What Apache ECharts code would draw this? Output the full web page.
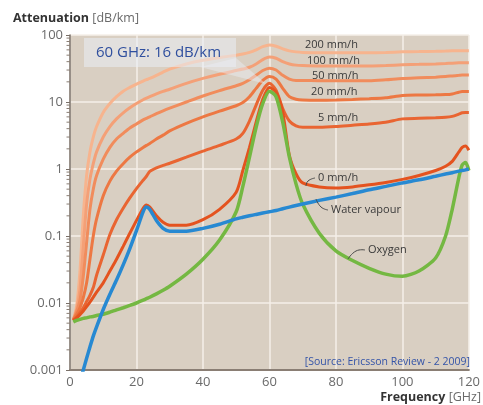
<!DOCTYPE html>
<html>
<head>
<meta charset="utf-8">
<script src="https://cdn.jsdelivr.net/npm/echarts@6/dist/echarts.min.js"></script>
<style>
html,body{margin:0;padding:0;background:#fff;}
#c{width:483px;height:405px;}
</style>
</head>
<body>
<div id="c"></div>
<script>
// Frequencies (GHz)
const freq = [1,2,3,4,5,6,7,8,10,12,14,16,18,20,22,23,24,26,28,30,35,40,45,50,52,54,56,58,60,62,64,66,68,70,75,80,85,90,95,100,105,110,113,115,117,118,119,120];

// Attenuation (dB/km)
const rain200 = [0.0056,0.009,0.03,0.2,0.8,1.8,3.0,4.3,7,9.5,12,14.5,16.5,18.5,20.5,21.5,22.5,25,28,31,37,42,46,50,52,55,60,67,71,68,62,58,56,55,54.5,54.5,54.5,54.5,55,56,56.5,57,57.5,58,58,58,58.3,58.3];
const rain100 = [0.0056,0.008,0.016,0.07,0.3,0.7,1.2,1.8,3.0,4.3,5.6,6.9,8.2,9.5,10.8,11.4,12,13.2,14.4,15.5,19,22.5,26,29.5,31,33,37,43,47,45,40,37,35.5,35,34.5,34.5,34.5,34.5,35,36,36.5,37,37.5,38,38.5,38.6,38.6,38.6];
const rain50 = [0.0056,0.0075,0.011,0.025,0.08,0.25,0.5,0.8,1.4,2.1,2.8,3.4,4.1,4.7,5.4,5.7,6.0,6.7,7.4,8.1,10,12.3,14.8,17.5,19,21.5,25,29.5,32,30,25,22,21,21,20.8,20.8,20.8,20.8,21.5,22.5,23,23.5,24,24.5,25,25.3,25.3,25.3];
const rain20 = [0.0056,0.0068,0.0085,0.012,0.02,0.045,0.1,0.18,0.4,0.66,0.93,1.2,1.5,1.8,2.1,2.25,2.4,2.8,3.2,3.7,4.8,6.0,7.3,8.8,9.8,12,16,21,24,22,16,12,11,10.7,10.6,10.7,10.9,11.2,11.6,12.5,12.7,12.8,12.9,13.2,14,14.3,14.3,14.3];
const rain5 = [0.0055,0.0062,0.0072,0.0085,0.0105,0.013,0.017,0.026,0.052,0.105,0.175,0.26,0.37,0.51,0.68,0.78,0.92,1.04,1.13,1.22,1.5,1.85,2.25,2.8,3.4,5.2,9,15,19,15,8,5.2,4.4,4.2,4.2,4.3,4.5,4.7,5.0,5.6,5.7,5.8,5.9,6.1,6.6,6.9,7.0,7.0];
const rain0 = [0.0055,0.006,0.0067,0.0076,0.0088,0.0103,0.0122,0.0145,0.02,0.03,0.045,0.07,0.11,0.17,0.26,0.29,0.27,0.2,0.16,0.145,0.145,0.175,0.25,0.45,0.95,2.1,5,11,16.5,14,7,1.6,0.85,0.62,0.54,0.52,0.54,0.58,0.63,0.7,0.8,0.95,1.1,1.3,1.8,2.1,2.2,1.9];
const oxygen = [0.0052,0.0055,0.0057,0.0059,0.006,0.0062,0.0063,0.0065,0.0068,0.0073,0.0079,0.0085,0.0092,0.010,0.011,0.0116,0.0122,0.0137,0.0155,0.0178,0.027,0.045,0.087,0.23,0.55,1.5,4.2,9.5,14.5,12,5,1.5,0.6,0.3,0.11,0.06,0.043,0.033,0.027,0.025,0.03,0.047,0.1,0.25,0.75,1.15,1.25,0.95];
const water = [0.00022,0.0004,0.00068,0.001,0.0015,0.0022,0.0032,0.0044,0.008,0.0135,0.022,0.037,0.065,0.12,0.23,0.27,0.25,0.17,0.13,0.118,0.118,0.13,0.15,0.18,0.19,0.2,0.21,0.22,0.23,0.24,0.255,0.27,0.285,0.3,0.34,0.38,0.43,0.49,0.55,0.62,0.69,0.78,0.84,0.88,0.93,0.95,0.97,1.0];

// Axis ticks
const xTicks = [0,20,40,60,80,100,120];
const yMinorTicks = [];
[0.001,0.01,0.1,1,10].forEach(d => { for (let m = 2; m <= 9; m++) yMinorTicks.push(+(d*m).toPrecision(2)); });

const zip = vals => freq.map((f,i) => [f, vals[i]]);

const FONT = '"Open Sans", "DejaVu Sans", sans-serif';

const lineSeries = (name, vals, color, width) => ({
  name, type: 'line', data: zip(vals), showSymbol: false, smooth: 0.25,
  lineStyle: { color, width }, itemStyle: { color }, silent: true
});

const chart = echarts.init(document.getElementById('c'), null, { renderer: 'canvas' });
chart.setOption({
  animation: false,
  backgroundColor: '#ffffff',
  grid: { left: 70, right: 12, top: 35, bottom: 35, show: true, backgroundColor: '#d9cfc2', borderWidth: 0 },
  xAxis: {
    type: 'value', min: 0, max: 120, interval: 20,
    axisLine: { show: true, lineStyle: { color: '#8a7e74', width: 2 } },
    axisTick: { show: false },
    splitLine: { show: true, lineStyle: { color: '#f4efe8', width: 1.5 } },
    axisLabel: { color: '#6a6a6a', fontSize: 13, fontFamily: FONT, margin: 6 }
  },
  yAxis: {
    type: 'log', logBase: 10, min: 0.001, max: 100,
    axisLine: { show: true, lineStyle: { color: '#7a7068', width: 1.5 } },
    axisTick: { show: true, inside: false, length: 4, lineStyle: { color: '#7a7068' } },
    splitLine: { show: true, lineStyle: { color: '#f4efe8', width: 1.5 } },
    axisLabel: { color: '#6a6a6a', fontSize: 13, fontFamily: FONT, margin: 7,
      formatter: v => String(+(+v).toPrecision(1)) }
  },
  series: [
    {
      type: 'custom', silent: true, clip: false,
      data: yMinorTicks.map(v => [0, v]),
      encode: { x: 0, y: 1 },
      renderItem: (params, api) => {
        const p = api.coord([api.value(0), api.value(1)]);
        return { type: 'line', shape: { x1: p[0] - 3.5, y1: p[1], x2: p[0], y2: p[1] },
          style: { stroke: '#8a7e74', lineWidth: 1 } };
      }
    },
    lineSeries('200 mm/h', rain200, '#f7b48e', 3),
    lineSeries('100 mm/h', rain100, '#f4a077', 3),
    lineSeries('50 mm/h', rain50, '#f18c5c', 3),
    lineSeries('20 mm/h', rain20, '#ed7843', 3),
    lineSeries('5 mm/h', rain5, '#e96532', 3),
    lineSeries('0 mm/h', rain0, '#e4531f', 3),
    lineSeries('Oxygen', oxygen, '#74b842', 3.5),
    lineSeries('Water vapour', water, '#2789d2', 3.5)
  ],
  graphic: [
    { type: 'rect', shape: { x: 84, y: 38, width: 152, height: 29 },
      style: { fill: 'rgba(234,238,246,0.55)' }, z: 10 },
    { type: 'polygon', shape: { points: [[200, 67], [236, 58], [266, 84]] },
      style: { fill: 'rgba(234,238,246,0.45)' }, z: 10 },
    { type: 'text', x: 96, y: 52.5, z: 11,
      style: { text: '60 GHz: 16 dB/km', font: '15px ' + FONT, fill: '#2f4f9e',
        align: 'left', verticalAlign: 'middle', textAlign: 'left', textVerticalAlign: 'middle' } },
    { type: 'text', x: 13, y: 18, z: 11,
      style: { text: '{b|Attenuation} {n|[dB/km]}', align: 'left', verticalAlign: 'middle',
        textAlign: 'left', textVerticalAlign: 'middle',
        rich: { b: { font: 'bold 12.5px ' + FONT, fill: '#333333' }, n: { font: '12.5px ' + FONT, fill: '#6a6a6a' } } } },
    { type: 'text', x: 481, y: 397, z: 11,
      style: { text: '{b|Frequency} {n|[GHz]}', align: 'right', verticalAlign: 'middle',
        textAlign: 'right', textVerticalAlign: 'middle',
        rich: { b: { font: 'bold 12.5px ' + FONT, fill: '#333333' }, n: { font: '12.5px ' + FONT, fill: '#6a6a6a' } } } },
    { type: 'text', x: 470, y: 362, z: 11,
      style: { text: '[Source: Ericsson Review - 2 2009]', font: '10.5px ' + FONT, fill: '#3454a8',
        align: 'right', verticalAlign: 'middle', textAlign: 'right', textVerticalAlign: 'middle' } },
    ...[
      ['200 mm/h', 305, 45], ['100 mm/h', 307, 61], ['50 mm/h', 312, 76],
      ['20 mm/h', 311, 92], ['5 mm/h', 318, 118], ['0 mm/h', 318, 178],
      ['Water vapour', 331, 210], ['Oxygen', 368, 250]
    ].map(([t, x, y]) => ({ type: 'text', x, y, z: 11,
      style: { text: t, font: '11px ' + FONT, fill: '#3a3a3a',
        align: 'left', verticalAlign: 'middle', textAlign: 'left', textVerticalAlign: 'middle' } })),
    { type: 'polyline', z: 11, shape: { points: [[306, 186], [308, 181], [315, 178]], smooth: 0.5 },
      style: { stroke: '#4a4a4a', lineWidth: 1, fill: null } },
    { type: 'polyline', z: 11, shape: { points: [[316, 199], [321, 207], [328, 210]], smooth: 0.5 },
      style: { stroke: '#4a4a4a', lineWidth: 1, fill: null } },
    { type: 'polyline', z: 11, shape: { points: [[348, 259], [356, 251], [365, 250]], smooth: 0.5 },
      style: { stroke: '#4a4a4a', lineWidth: 1, fill: null } }
  ]
});
</script>
</body>
</html>
